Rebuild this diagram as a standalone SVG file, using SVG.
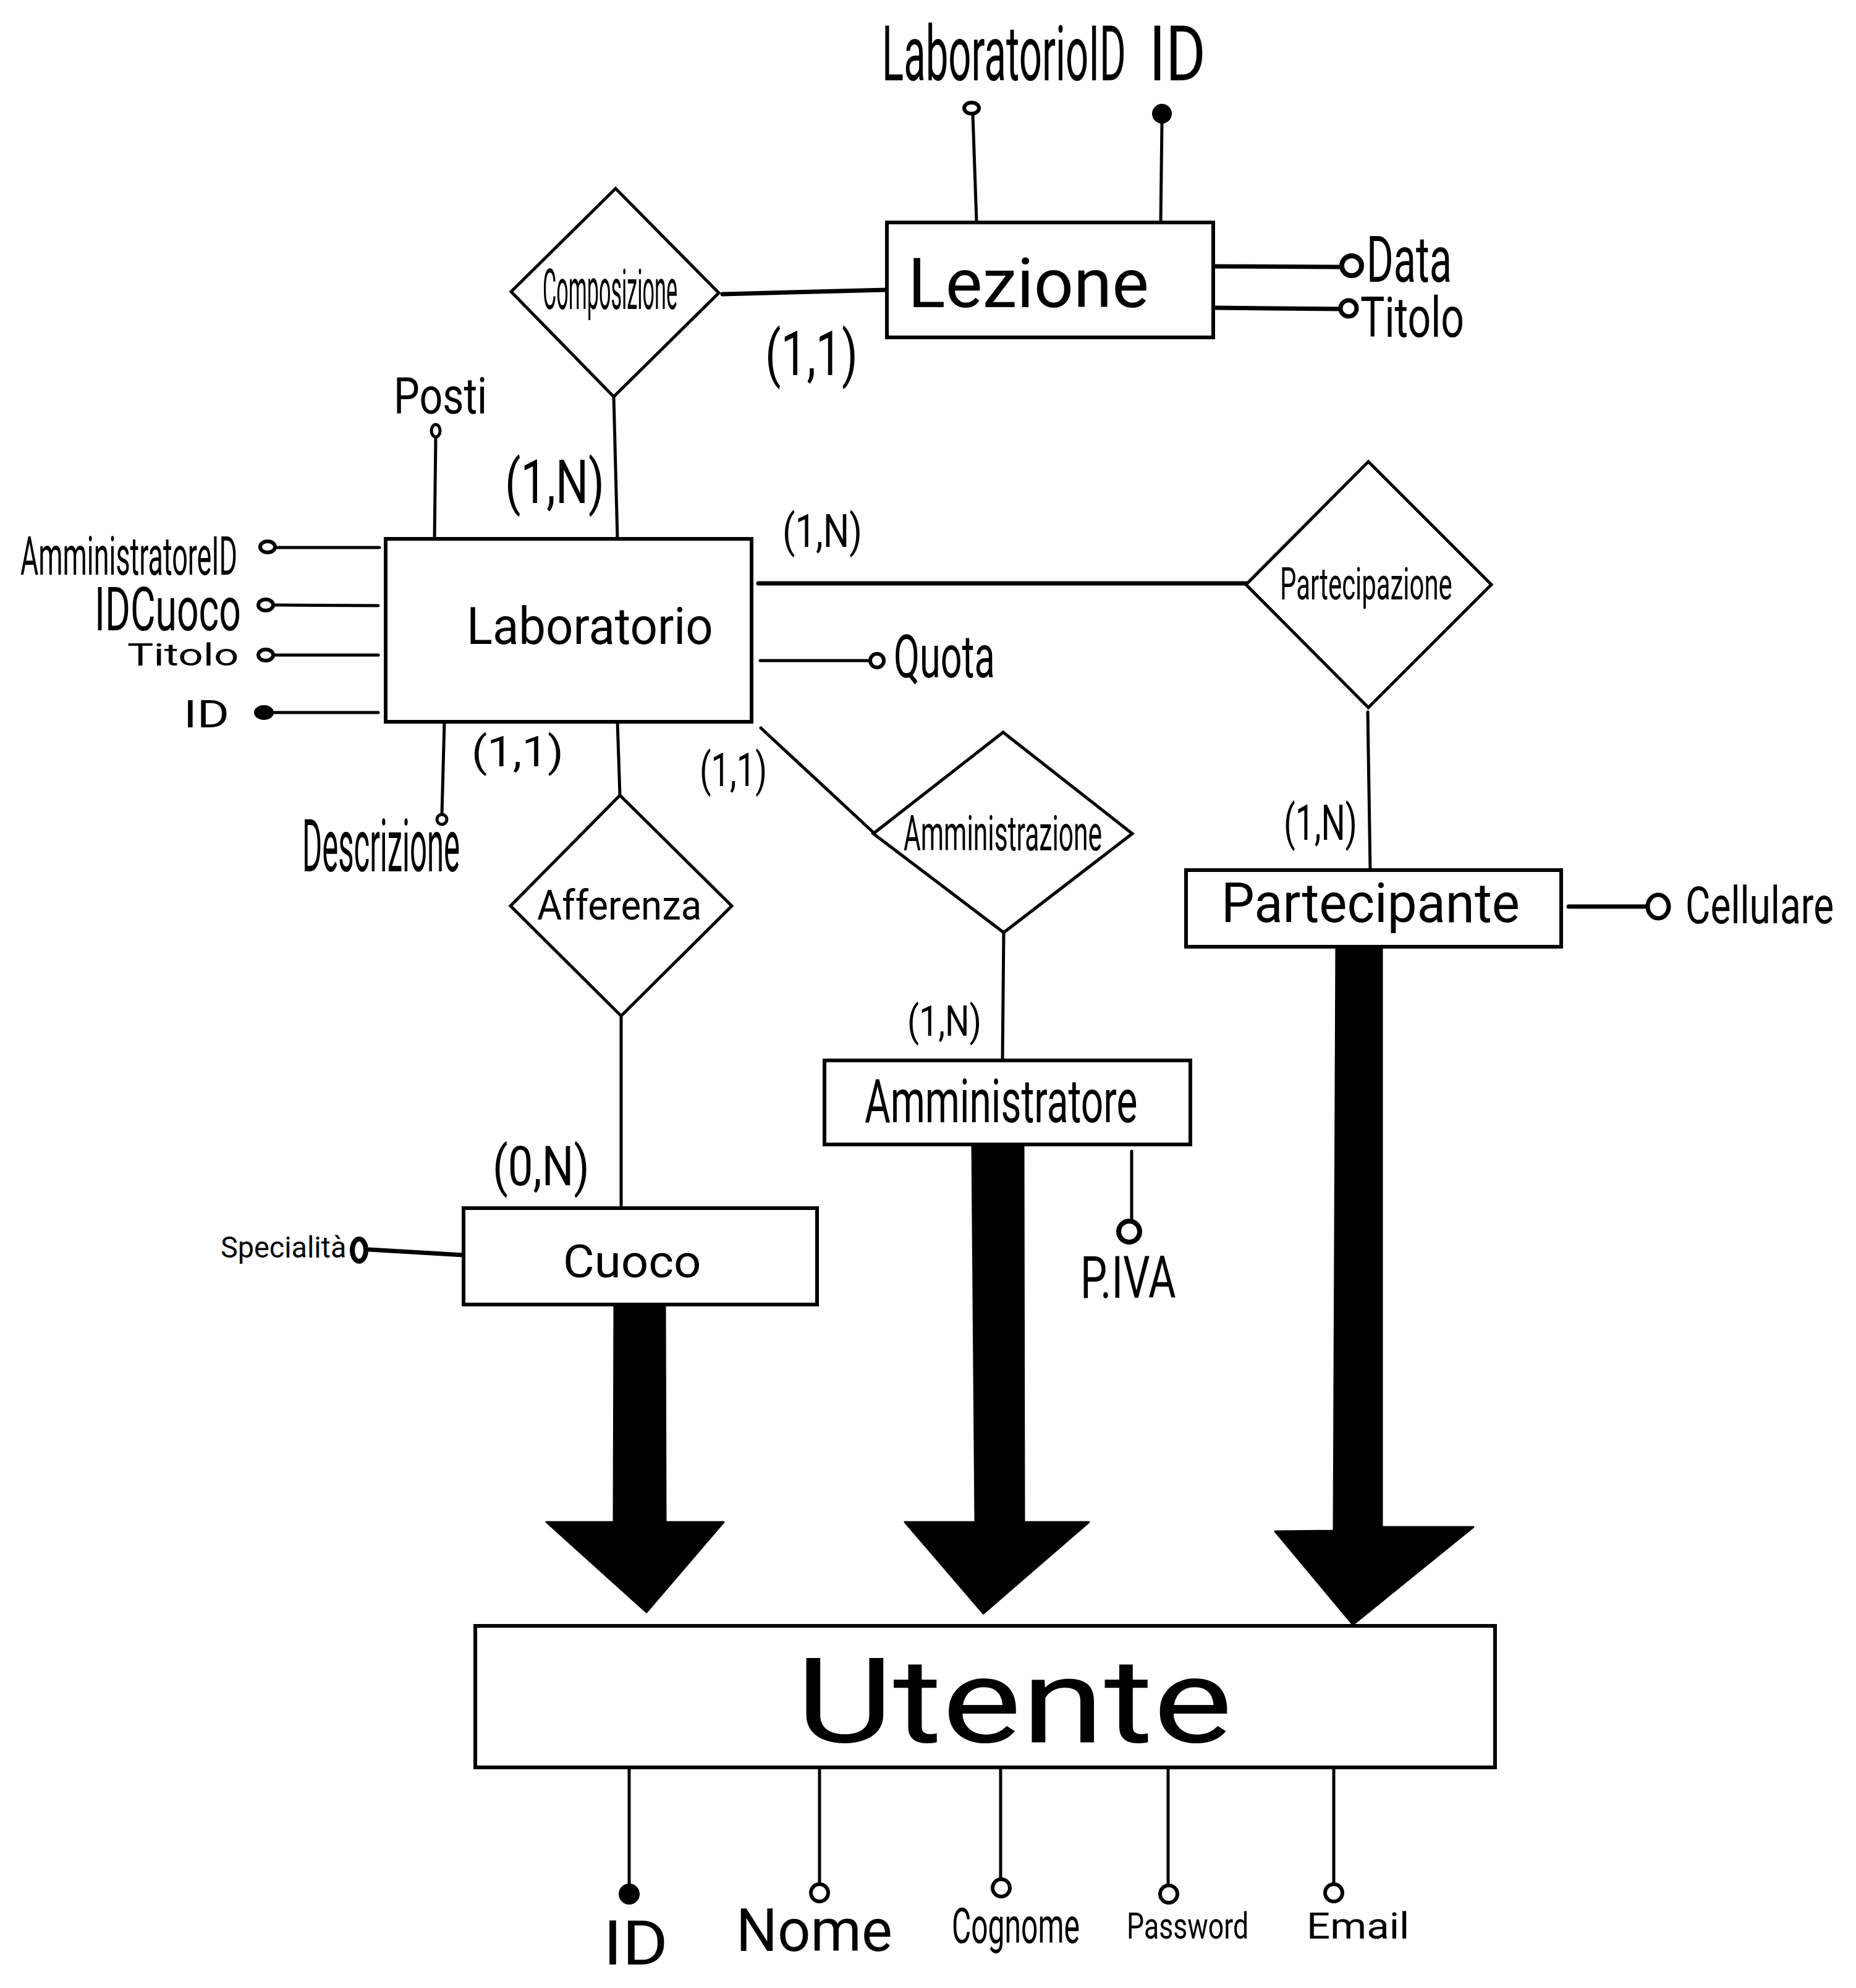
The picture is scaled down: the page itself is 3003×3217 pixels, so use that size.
<svg xmlns="http://www.w3.org/2000/svg" width="3003" height="3217" viewBox="0 0 3003 3217">
<style>
.ent{fill:#fff;stroke:#000;stroke-width:6}
.rel{fill:#fff;stroke:#000;stroke-width:5}
.ln{stroke:#000;stroke-width:5;fill:none;stroke-linecap:round}
.lw{stroke:#000;stroke-width:7;fill:none;stroke-linecap:round}
.oc{fill:#fff;stroke:#000;stroke-width:6}
.fc{fill:#000;stroke:#000;stroke-width:2}
.arr{fill:#000;stroke:#000;stroke-width:3;stroke-linejoin:round}
text{font-family:Roboto,"Liberation Sans",sans-serif;fill:#000}
</style>
<rect x="0" y="0" width="3003" height="3217" fill="#fff"/>
<g id="connectors">
<line class="lw" x1="1169" y1="476" x2="1435" y2="469"/>
<line class="ln" x1="993" y1="642" x2="999" y2="872"/>
<line class="lw" x1="1227" y1="944" x2="2016" y2="944"/>
<line class="ln" x1="1231" y1="1178" x2="1413" y2="1347"/>
<line class="ln" x1="999" y1="1168" x2="1003" y2="1287"/>
<line class="ln" x1="1005" y1="1644" x2="1005" y2="1955"/>
<line class="ln" x1="1624" y1="1510" x2="1622" y2="1716"/>
<line class="ln" x1="2213" y1="1152" x2="2217" y2="1408"/>
<polygon class="arr" points="994,2110 1076,2110 1077,2463 1171,2463 1046,2609 884,2463 993,2463"/>
<polygon class="arr" points="1573,1853 1656,1853 1657,2463 1762,2463 1591,2611 1464,2463 1578,2463"/>
<polygon class="arr" points="2162,1532 2236,1532 2236,2471 2384,2471 2189,2629 2063,2478 2158,2477"/>
<text transform="translate(1238,607) scale(0.746,1)" font-size="100" textLength="201" lengthAdjust="spacingAndGlyphs">(1,1)</text>
<text transform="translate(817,814) scale(0.752,1)" font-size="99" textLength="214" lengthAdjust="spacingAndGlyphs">(1,N)</text>
<text transform="translate(1266,885) scale(0.806,1)" font-size="74" textLength="160" lengthAdjust="spacingAndGlyphs">(1,N)</text>
<text transform="translate(763,1240) scale(1.07,1)" font-size="69" textLength="139" lengthAdjust="spacingAndGlyphs">(1,1)</text>
<text transform="translate(1132,1272) scale(0.713,1)" font-size="76" textLength="153" lengthAdjust="spacingAndGlyphs">(1,1)</text>
<text transform="translate(2077,1359) scale(0.688,1)" font-size="80" textLength="173" lengthAdjust="spacingAndGlyphs">(1,N)</text>
<text transform="translate(1468,1676) scale(0.805,1)" font-size="69" textLength="149" lengthAdjust="spacingAndGlyphs">(1,N)</text>
<text transform="translate(797,1918) scale(0.816,1)" font-size="89" textLength="192" lengthAdjust="spacingAndGlyphs">(0,N)</text>
</g>
<g id="lezione">
<line class="ln" x1="1574" y1="186" x2="1580" y2="358"/>
<ellipse class="oc" cx="1572" cy="175" rx="12" ry="9"/>
<line class="ln" x1="1880" y1="199" x2="1878" y2="360"/>
<circle class="fc" cx="1880" cy="184" r="15"/>
<line class="lw" x1="1963" y1="431" x2="2167" y2="432"/>
<circle cx="2187" cy="430" r="16" fill="#fff" stroke="#000" stroke-width="8"/>
<line class="lw" x1="1963" y1="498" x2="2167" y2="500"/>
<circle cx="2182" cy="499" r="13" fill="#fff" stroke="#000" stroke-width="7"/>
<rect class="ent" x="1435" y="360" width="528" height="186"/>
<text x="1469" y="497" font-size="112" textLength="390" lengthAdjust="spacingAndGlyphs">Lezione</text>
<text transform="translate(1427,130) scale(0.525,1)" font-size="124" textLength="752" lengthAdjust="spacingAndGlyphs">LaboratorioID</text>
<text transform="translate(1859,130) scale(0.8,1)" font-size="124" textLength="115" lengthAdjust="spacingAndGlyphs">ID</text>
<text transform="translate(2211,456) scale(0.667,1)" font-size="103" textLength="207" lengthAdjust="spacingAndGlyphs">Data</text>
<text transform="translate(2201,545) scale(0.75,1)" font-size="91" textLength="224" lengthAdjust="spacingAndGlyphs">Titolo</text>
</g>
<g id="composizione">
<polygon class="rel" points="996,305 1163,474 993,642 827,472"/>
<text transform="translate(878,500) scale(0.376,1)" font-size="91" textLength="580" lengthAdjust="spacingAndGlyphs">Composizione</text>
</g>
<g id="laboratorio">
<line class="ln" x1="705" y1="708" x2="703" y2="872"/>
<ellipse class="oc" cx="705" cy="697" rx="7" ry="10" style="stroke-width:5"/>
<line class="ln" x1="448" y1="886" x2="614" y2="886"/>
<ellipse class="oc" cx="433" cy="885" rx="12" ry="9"/>
<line class="ln" x1="445" y1="979" x2="612" y2="980"/>
<ellipse class="oc" cx="430" cy="979" rx="12" ry="9"/>
<line class="ln" x1="445" y1="1060" x2="612" y2="1060"/>
<ellipse class="oc" cx="430" cy="1060" rx="12" ry="9"/>
<line class="ln" x1="440" y1="1153" x2="612" y2="1153"/>
<ellipse class="fc" cx="427" cy="1153" rx="15" ry="11"/>
<line class="ln" x1="719" y1="1168" x2="715" y2="1317"/>
<circle class="oc" cx="715" cy="1326" r="8" style="stroke-width:5"/>
<line class="ln" x1="1230" y1="1069" x2="1406" y2="1069"/>
<circle class="oc" cx="1419" cy="1069" r="11"/>
<rect class="ent" x="624" y="872" width="592" height="296"/>
<text transform="translate(755,1042) scale(0.923,1)" font-size="84" textLength="432" lengthAdjust="spacingAndGlyphs">Laboratorio</text>
<text transform="translate(637,669) scale(0.8,1)" font-size="82" textLength="189" lengthAdjust="spacingAndGlyphs">Posti</text>
<text transform="translate(33,930) scale(0.513,1)" font-size="87" textLength="684" lengthAdjust="spacingAndGlyphs">AmministratoreID</text>
<text transform="translate(153,1020) scale(0.63,1)" font-size="99" textLength="376" lengthAdjust="spacingAndGlyphs">IDCuoco</text>
<text transform="translate(206,1077) scale(1.41,1)" font-size="50" textLength="128" lengthAdjust="spacingAndGlyphs">Titolo</text>
<text transform="translate(297,1177) scale(1.3,1)" font-size="61" textLength="57" lengthAdjust="spacingAndGlyphs">ID</text>
<text transform="translate(489,1410) scale(0.416,1)" font-size="118" textLength="613" lengthAdjust="spacingAndGlyphs">Descrizione</text>
<text transform="translate(1446,1096) scale(0.63,1)" font-size="97" textLength="260" lengthAdjust="spacingAndGlyphs">Quota</text>
</g>
<g id="partecipazione">
<polygon class="rel" points="2214,747 2413,946 2214,1145 2016,946"/>
<text transform="translate(2071,970) scale(0.576,1)" font-size="73" textLength="484" lengthAdjust="spacingAndGlyphs">Partecipazione</text>
</g>
<g id="amministrazione">
<polygon class="rel" points="1623,1185 1832,1349 1624,1509 1413,1349"/>
<text transform="translate(1462,1376) scale(0.538,1)" font-size="79" textLength="597" lengthAdjust="spacingAndGlyphs">Amministrazione</text>
</g>
<g id="afferenza">
<polygon class="rel" points="1003,1287 1184,1466 1005,1644 826,1466"/>
<text transform="translate(869,1488) scale(0.915,1)" font-size="67" textLength="291" lengthAdjust="spacingAndGlyphs">Afferenza</text>
</g>
<g id="partecipante">
<line class="lw" x1="2538" y1="1467" x2="2662" y2="1467"/>
<ellipse cx="2683" cy="1467" rx="17" ry="19" fill="#fff" stroke="#000" stroke-width="7"/>
<rect class="ent" x="1919" y="1408" width="607" height="124"/>
<text transform="translate(1976,1492) scale(0.96,1)" font-size="89" textLength="503" lengthAdjust="spacingAndGlyphs">Partecipante</text>
<text transform="translate(2727,1494) scale(0.746,1)" font-size="83" textLength="322" lengthAdjust="spacingAndGlyphs">Cellulare</text>
</g>
<g id="amministratore">
<line class="ln" x1="1831" y1="1863" x2="1831" y2="1973"/>
<circle cx="1827" cy="1993" r="17" fill="#fff" stroke="#000" stroke-width="8"/>
<rect class="ent" x="1334" y="1716" width="592" height="136"/>
<text transform="translate(1399,1816) scale(0.65,1)" font-size="98" textLength="679" lengthAdjust="spacingAndGlyphs">Amministratore</text>
<text transform="translate(1748,2100) scale(0.67,1)" font-size="94" textLength="231" lengthAdjust="spacingAndGlyphs">P.IVA</text>
</g>
<g id="cuoco">
<line class="lw" x1="597" y1="2022" x2="750" y2="2031"/>
<ellipse cx="581" cy="2023" rx="11" ry="18" fill="#fff" stroke="#000" stroke-width="8"/>
<rect class="ent" x="750" y="1955" width="572" height="156"/>
<text transform="translate(911,2067) scale(1.04,1)" font-size="75" textLength="215" lengthAdjust="spacingAndGlyphs">Cuoco</text>
<text transform="translate(357,2035) scale(0.95,1)" font-size="49" textLength="214" lengthAdjust="spacingAndGlyphs">Specialità</text>
</g>
<g id="utente">
<line class="ln" x1="1018" y1="2861" x2="1018" y2="3050"/>
<circle class="fc" cx="1018" cy="3065" r="16"/>
<line class="ln" x1="1326" y1="2863" x2="1326" y2="3048"/>
<circle class="oc" cx="1326" cy="3063" r="14"/>
<line class="ln" x1="1619" y1="2861" x2="1619" y2="3040"/>
<circle class="oc" cx="1620" cy="3055" r="14"/>
<line class="ln" x1="1890" y1="2863" x2="1890" y2="3050"/>
<circle class="oc" cx="1891" cy="3065" r="14"/>
<line class="ln" x1="2158" y1="2863" x2="2158" y2="3048"/>
<circle class="oc" cx="2158" cy="3063" r="14"/>
<rect class="ent" x="769" y="2631" width="1650" height="229"/>
<text transform="translate(1288,2819) scale(1.27,1)" font-size="191" textLength="556" lengthAdjust="spacingAndGlyphs">Utente</text>
<text transform="translate(976,3179) scale(1.13,1)" font-size="100" textLength="93" lengthAdjust="spacingAndGlyphs">ID</text>
<text transform="translate(1191,3157) scale(0.98,1)" font-size="96" textLength="258" lengthAdjust="spacingAndGlyphs">Nome</text>
<text transform="translate(1540,3144) scale(0.607,1)" font-size="79" textLength="341" lengthAdjust="spacingAndGlyphs">Cognome</text>
<text transform="translate(1823,3137) scale(0.755,1)" font-size="59" textLength="261" lengthAdjust="spacingAndGlyphs">Password</text>
<text transform="translate(2114,3137) scale(1.14,1)" font-size="59" textLength="146" lengthAdjust="spacingAndGlyphs">Email</text>
</g>
</svg>
